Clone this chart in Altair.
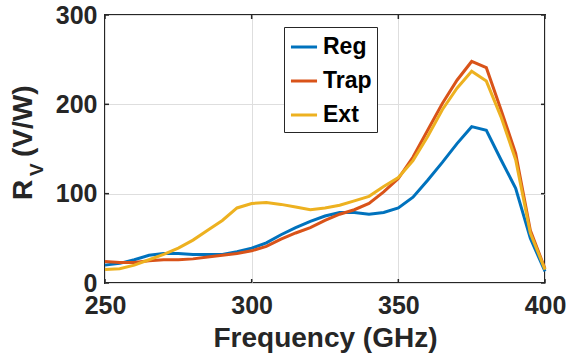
import altair as alt
import pandas as pd

freq = [250, 255, 260, 265, 270, 275, 280, 285, 290, 295, 300, 305, 310, 315, 320,
        325, 330, 335, 340, 345, 350, 355, 360, 365, 370, 375, 380, 385, 390, 395, 400]
reg = [20, 22, 26, 31, 33, 33, 32, 32, 32, 35, 39, 45, 54, 62, 69,
       75, 79, 79, 77, 79, 84, 96, 115, 135, 156, 175, 171, 138, 106, 50, 13]
trap = [24, 23, 23, 25, 26, 26, 27, 29, 31, 33, 36, 41, 49, 56, 62,
        70, 77, 82, 89, 102, 117, 141, 171, 201, 227, 248, 241, 194, 145, 59, 16]
ext = [15, 16, 20, 26, 32, 39, 48, 59, 70, 84, 89, 90, 88, 85, 82,
       84, 87, 92, 97, 108, 118, 137, 164, 194, 218, 237, 226, 186, 138, 56, 15]
series_names = ["Reg", "Trap", "Ext"]
series_colors = ["#0072BD", "#D95319", "#EDB120"]
x_ticks = [250, 300, 350, 400]
y_ticks = [0, 100, 200, 300]

rows = []
for name, vals in zip(series_names, [reg, trap, ext]):
    for f, v in zip(freq, vals):
        rows.append({"f": f, "v": v, "s": name})
df = pd.DataFrame(rows)

FONT = "Liberation Sans"
INK = "#262626"
W, H = 440, 268

xs = alt.Scale(domain=[250, 400], nice=False)
ys = alt.Scale(domain=[0, 300], nice=False)

lines = alt.Chart(df).mark_line(strokeWidth=3).encode(
    x=alt.X("f:Q", scale=xs,
            axis=alt.Axis(values=x_ticks, title="Frequency (GHz)", format="d",
                          labelFlush=False, labelOverlap=False)),
    y=alt.Y("v:Q", scale=ys,
            axis=alt.Axis(values=y_ticks, title=None, format="d",
                          labelFlush=False, labelOverlap=False)),
    color=alt.Color("s:N", scale=alt.Scale(domain=series_names, range=series_colors),
                    legend=alt.Legend(title=None, orient="none", legendX=179, legendY=12,
                                      symbolType="stroke", symbolSize=680,
                                      symbolStrokeWidth=3, labelFontSize=23,
                                      labelFontWeight="bold", labelFont=FONT,
                                      labelColor="black", labelOffset=4,
                                      padding=5, rowPadding=7,
                                      strokeColor=INK, fillColor="white")),
    order=alt.Order("f:Q"),
)

xt = pd.DataFrame({"f": x_ticks})
yt = pd.DataFrame({"v": y_ticks})
tick_bottom = alt.Chart(xt).mark_rule(color=INK, strokeWidth=1.5).encode(
    x=alt.X("f:Q", scale=xs), y=alt.value(H), y2=alt.value(H - 4))
tick_top = alt.Chart(xt).mark_rule(color=INK, strokeWidth=1.5).encode(
    x=alt.X("f:Q", scale=xs), y=alt.value(0), y2=alt.value(4))
tick_left = alt.Chart(yt).mark_rule(color=INK, strokeWidth=1.5).encode(
    y=alt.Y("v:Q", scale=ys), x=alt.value(0), x2=alt.value(4))
tick_right = alt.Chart(yt).mark_rule(color=INK, strokeWidth=1.5).encode(
    y=alt.Y("v:Q", scale=ys), x=alt.value(W), x2=alt.value(W - 4))

def label(txt, x, y, size):
    return alt.Chart(pd.DataFrame({"t": [txt]})).mark_text(
        angle=270, align="left", baseline="alphabetic", font=FONT,
        fontWeight="bold", fontSize=size, color=INK
    ).encode(text="t:N", x=alt.value(x), y=alt.value(y))

ytitle = label("R", -73, 185, 28) + label("V", -62, 161, 19) + label("(V/W)", -73, 142, 28)

chart = alt.layer(lines, tick_bottom, tick_top, tick_left, tick_right, ytitle).properties(
    width=W, height=H,
    autosize=alt.AutoSizeParams(type="none"),
    padding={"left": 105, "top": 15, "right": 25, "bottom": 79},
).configure_view(stroke=INK, strokeWidth=2).configure_axis(
    labelFont=FONT, labelFontWeight="bold", labelFontSize=25, labelColor=INK,
    titleFont=FONT, titleFontWeight="bold", titleFontSize=28, titleColor=INK,
    grid=True, gridColor="#dedede", gridWidth=1, ticks=False, domain=False,
).configure_axisX(labelPadding=10, titlePadding=6).configure_axisY(labelPadding=8)

chart.save("out.html", embed_options={"renderer": "svg", "actions": False})
